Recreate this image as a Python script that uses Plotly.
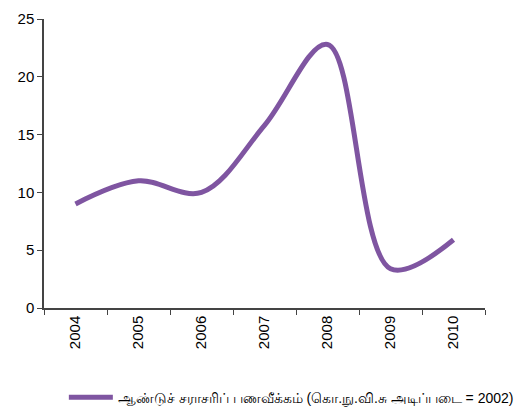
import plotly.graph_objects as go

years = ["2004", "2005", "2006", "2007", "2008", "2009", "2010"]
inflation = [9.0, 11.0, 10.0, 15.8, 22.8, 3.4, 5.9]
series_name = "ஆண்டுச் சராசரிப் பணவீக்கம் (கொ.நு.வி.சு அடிப்படை = 2002)"
y_ticks = [0, 5, 10, 15, 20, 25]

fig = go.Figure()
fig.add_trace(go.Scatter(
    x=years, y=inflation, mode="lines", name=series_name,
    line=dict(color="#7F55A1", width=5, shape="spline", smoothing=1.0),
))

fig.update_layout(
    width=514, height=399,
    margin=dict(l=36, r=37, t=11, b=99, autoexpand=False),
    paper_bgcolor="white", plot_bgcolor="white",
    font=dict(family="Liberation Sans, Arial, sans-serif", color="black", size=15),
    showlegend=True,
    legend=dict(orientation="h", xref="paper", yref="paper",
                x=0.045, xanchor="left", y=-0.31, yanchor="middle",
                itemwidth=44,
                font=dict(size=14, family="Liberation Sans, Noto Sans, sans-serif")),
)
fig.update_xaxes(
    type="category", range=[-0.5, 6.5], tickson="boundaries",
    showline=True, linecolor="#444", linewidth=1.5,
    ticks="outside", ticklen=5, tickcolor="#444",
    tickangle=-90, showgrid=False, zeroline=False, automargin=False,
)
fig.update_yaxes(
    range=[0, 25], tickvals=y_ticks,
    showline=True, linecolor="#444", linewidth=1.5,
    ticks="outside", ticklen=5, tickcolor="#444",
    showgrid=False, zeroline=False, automargin=False,
)
fig.write_html("out.html")
